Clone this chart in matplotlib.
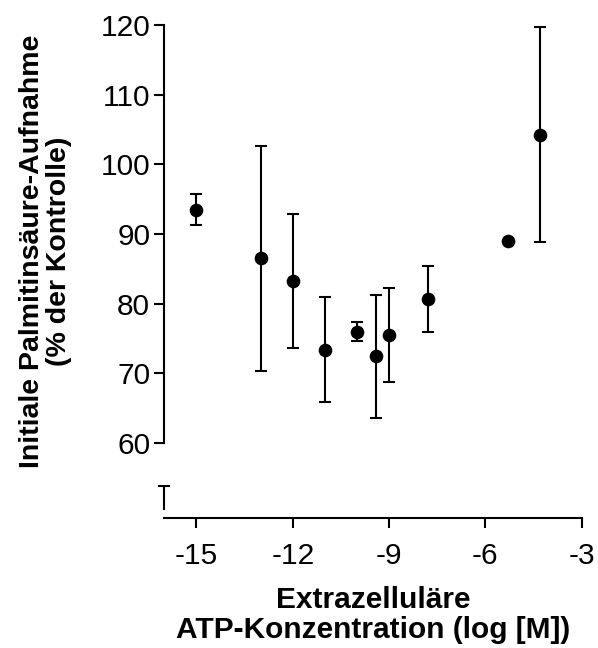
import numpy as np
import matplotlib.pyplot as plt

plt.rcParams['font.family'] = ['Liberation Sans', 'DejaVu Sans']
plt.rcParams['axes.unicode_minus'] = False

# Daten (Mittelwert +/- SD)
log_atp  = [-15, -13, -12, -11, -10, -9.4, -9, -7.8, -5.3, -4.3]
aufnahme = [93.5, 86.55, 83.3, 73.4, 76.0, 72.45, 75.55, 80.7, 89.0, 104.25]
sd       = [2.2, 16.15, 9.6, 7.5, 1.4, 8.85, 6.75, 4.7, 0.0, 15.45]

# abgeschnittener Fehlerbalken unten links
stub_x  = [-16]
stub_lo = [50.4]
stub_hi = [53.9]

fig = plt.figure(figsize=(5.98, 6.48), dpi=100)
ax = fig.add_axes([0.2748, 0.2011, 0.698, 0.7603])

ax.errorbar(log_atp, aufnahme, yerr=sd, fmt='o', color='black', ms=8.8,
            elinewidth=1.5, capsize=4.5, capthick=1.5)
ax.vlines(stub_x, stub_lo, stub_hi, color='black', lw=1.5, clip_on=False)
ax.plot(stub_x, stub_hi, marker='_', ms=9, mew=1.5, color='black',
        linestyle='none', clip_on=False)

ax.set_xlim(-16, -3)
ax.set_ylim(49.3, 120)
ax.set_xticks([-15, -12, -9, -6, -3])
ax.set_yticks([60, 70, 80, 90, 100, 110, 120])

for s in ['top', 'right']:
    ax.spines[s].set_visible(False)
ax.spines['left'].set_bounds(60, 120)
ax.spines['bottom'].set_bounds(-16, -3)
for s in ['left', 'bottom']:
    ax.spines[s].set_linewidth(1.5)
ax.tick_params(direction='out', width=1.5, labelsize=21.5)
ax.tick_params(axis='y', length=7.2, pad=3)
ax.tick_params(axis='x', length=7.5, pad=10)

fig.text(373 / 598, 1 - 638 / 648, "Extrazelluläre\nATP-Konzentration (log [M])",
         fontsize=21.5, fontweight='bold', ha='center', va='baseline',
         linespacing=1.07)
fig.text(65 / 598, 1 - 251.8 / 648, "Initiale Palmitinsäure-Aufnahme\n(% der Kontrolle)",
         fontsize=20.5, fontweight='bold', ha='center', va='baseline',
         rotation=90, rotation_mode='anchor', linespacing=1.07)

plt.savefig("out.png", dpi=100)
